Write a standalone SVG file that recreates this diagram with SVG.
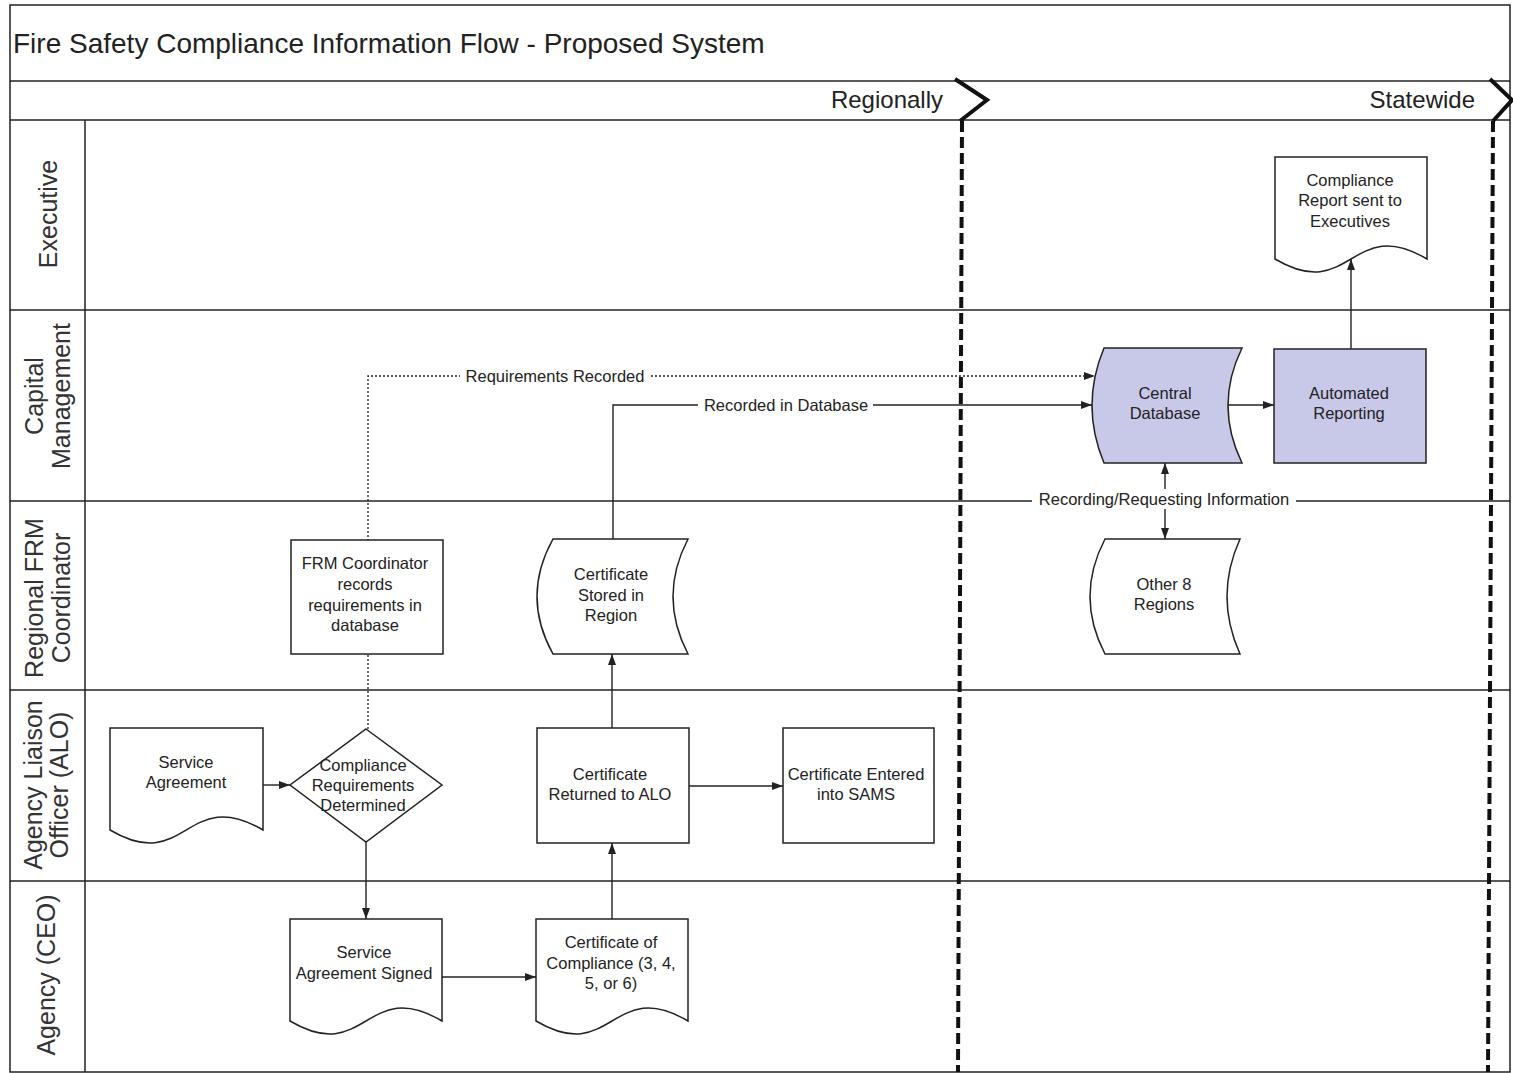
<svg xmlns="http://www.w3.org/2000/svg" width="1513" height="1073" viewBox="0 0 1513 1073">
  <style>
    .frame { fill: none; stroke: #222; stroke-width: 1.5; }
    .phase { fill: none; stroke: #111; stroke-width: 4; stroke-linejoin: miter; }
    .phase-dash { fill: none; stroke: #111; stroke-width: 4; stroke-dasharray: 11 5; }
    .node { fill: #fff; stroke: #222; stroke-width: 1.5; }
    .node.db { fill: #c8c8e8; }
    .edge { fill: none; stroke: #222; stroke-width: 1.4; marker-end: url(#arrow); }
    .edge.dotted { stroke-dasharray: 2 2; stroke-width: 1.3; }
    .t { font-family: "Liberation Sans", Arial, sans-serif; fill: #222; }
    .title { font-size: 28px; }
    .phase-label { font-size: 24px; text-anchor: end; }
    .lane-label { font-size: 25px; text-anchor: middle; fill: #333; }
    .label { font-size: 16.5px; text-anchor: middle; }
    .bg { fill: #fff; stroke: none; }
  </style>
  <defs>
    <marker id="arrow" viewBox="0 0 11 8" refX="11" refY="4" markerWidth="11" markerHeight="8" markerUnits="userSpaceOnUse" orient="auto">
      <path d="M0,0 L11,4 L0,8 Z" fill="#222"/>
    </marker>
  </defs>

  <rect x="0" y="0" width="1513" height="1073" fill="#fff"/>

  <!-- Swimlane frame -->
  <g id="swimlanes">
    <path class="frame" d="M10,5 H1510 V1072 H10 Z"/>
    <path class="frame" d="M10,81 H1510"/>
    <path class="frame" d="M10,120 H1510"/>
    <path class="frame" d="M10,310 H1510"/>
    <path class="frame" d="M10,501 H1510"/>
    <path class="frame" d="M10,690 H1510"/>
    <path class="frame" d="M10,881 H1510"/>
    <path class="frame" d="M85,120 V1072"/>

    <text class="t title" x="13" y="53">Fire Safety Compliance Information Flow - Proposed System</text>
    <text class="t phase-label" x="943" y="108">Regionally</text>
    <text class="t phase-label" x="1475" y="108">Statewide</text>

    <text class="t lane-label" transform="translate(57,214) rotate(-90)">Executive</text>
    <text class="t lane-label" transform="translate(43,396) rotate(-90)">Capital</text>
    <text class="t lane-label" transform="translate(70,396) rotate(-90)">Management</text>
    <text class="t lane-label" transform="translate(43,598) rotate(-90)">Regional FRM</text>
    <text class="t lane-label" transform="translate(70,598) rotate(-90)">Coordinator</text>
    <text class="t lane-label" transform="translate(42,785) rotate(-90)">Agency Liaison</text>
    <text class="t lane-label" transform="translate(68,785) rotate(-90)">Officer (ALO)</text>
    <text class="t lane-label" transform="translate(55,975) rotate(-90)">Agency (CEO)</text>
  </g>

  <!-- Phase separators -->
  <g id="phases">
    <path class="phase" d="M955,79 L987,100 L960,121"/>
    <path class="phase-dash" d="M962,121 L958,1072"/>
    <path class="phase" d="M1490,79 L1512,100 L1493,121"/>
    <path class="phase-dash" d="M1493,121 L1488,1072"/>
  </g>

  <!-- Connectors -->
  <g id="connectors">
    <path class="edge dotted" d="M368,729 V376 H1095"/>
    <path class="edge" d="M613,539 V405 H1092"/>
    <path class="edge" d="M1228,405 H1274"/>
    <path class="edge" d="M1351,349 V259"/>
    <path class="edge" d="M1165,499 V463"/>
    <path class="edge" d="M1165,499 V539"/>
    <path class="edge" d="M263,785 H290"/>
    <path class="edge" d="M366,842 V919"/>
    <path class="edge" d="M442,977 H536"/>
    <path class="edge" d="M612,919 V843"/>
    <path class="edge" d="M612,728 V654"/>
    <path class="edge" d="M689,786 H783"/>

    <rect class="bg" x="460" y="366" width="190" height="20"/>
    <text class="t label" x="555" y="382">Requirements Recorded</text>
    <rect class="bg" x="698" y="395" width="175" height="20"/>
    <text class="t label" x="786" y="411">Recorded in Database</text>
    <rect class="bg" x="1032" y="489" width="264" height="20"/>
    <text class="t label" x="1164" y="505">Recording/Requesting Information</text>
  </g>

  <!-- Nodes -->
  <g id="n-compliance-report">
    <path class="node" d="M1275,157 H1427 V259 C1351,214 1351,304 1275,259 Z"/>
    <text class="t label" x="1350" y="186">Compliance</text>
    <text class="t label" x="1350" y="206">Report sent to</text>
    <text class="t label" x="1350" y="227">Executives</text>
  </g>

  <g id="n-central-database">
    <path class="node db" d="M1104,348 H1242 Q1214,405.5 1242,463 H1104 Q1080,405.5 1104,348 Z"/>
    <text class="t label" x="1165" y="399">Central</text>
    <text class="t label" x="1165" y="419">Database</text>
  </g>

  <g id="n-automated-reporting">
    <rect class="node db" x="1274" y="349" width="152" height="114"/>
    <text class="t label" x="1349" y="399">Automated</text>
    <text class="t label" x="1349" y="419">Reporting</text>
  </g>

  <g id="n-other-regions">
    <path class="node" d="M1105,539 H1240 Q1214,596.5 1240,654 H1105 Q1075,596.5 1105,539 Z"/>
    <text class="t label" x="1164" y="590">Other 8</text>
    <text class="t label" x="1164" y="610">Regions</text>
  </g>

  <g id="n-frm-records">
    <rect class="node" x="291" y="540" width="152" height="114"/>
    <text class="t label" x="365" y="569">FRM Coordinator</text>
    <text class="t label" x="365" y="590">records</text>
    <text class="t label" x="365" y="611">requirements in</text>
    <text class="t label" x="365" y="631">database</text>
  </g>

  <g id="n-cert-stored">
    <path class="node" d="M553,539 H688 Q658,596.5 688,654 H553 Q521,596.5 553,539 Z"/>
    <text class="t label" x="611" y="580">Certificate</text>
    <text class="t label" x="611" y="601">Stored in</text>
    <text class="t label" x="611" y="621">Region</text>
  </g>

  <g id="n-service-agreement">
    <path class="node" d="M110,728 H263 V830 C186,785 186,875 110,830 Z"/>
    <text class="t label" x="186" y="768">Service</text>
    <text class="t label" x="186" y="788">Agreement</text>
  </g>

  <g id="n-requirements-determined">
    <path class="node" d="M366,729 L442,785 L366,842 L290,785 Z"/>
    <text class="t label" x="363" y="771">Compliance</text>
    <text class="t label" x="363" y="791">Requirements</text>
    <text class="t label" x="363" y="811">Determined</text>
  </g>

  <g id="n-cert-returned">
    <rect class="node" x="537" y="728" width="152" height="115"/>
    <text class="t label" x="610" y="780">Certificate</text>
    <text class="t label" x="610" y="800">Returned to ALO</text>
  </g>

  <g id="n-cert-sams">
    <rect class="node" x="783" y="728" width="151" height="115"/>
    <text class="t label" x="856" y="780">Certificate Entered</text>
    <text class="t label" x="856" y="800">into SAMS</text>
  </g>

  <g id="n-agreement-signed">
    <path class="node" d="M290,919 H442 V1021 C366,976 366,1066 290,1021 Z"/>
    <text class="t label" x="364" y="958">Service</text>
    <text class="t label" x="364" y="979">Agreement Signed</text>
  </g>

  <g id="n-cert-compliance">
    <path class="node" d="M536,919 H688 V1021 C612,976 612,1066 536,1021 Z"/>
    <text class="t label" x="611" y="948">Certificate of</text>
    <text class="t label" x="611" y="969">Compliance (3, 4,</text>
    <text class="t label" x="611" y="989">5, or 6)</text>
  </g>
</svg>
